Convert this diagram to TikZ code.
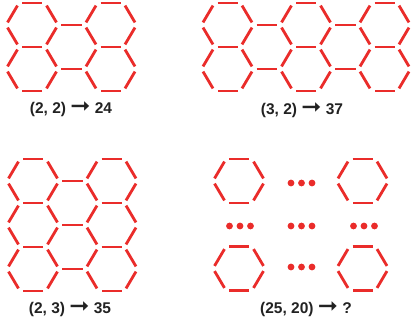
\documentclass[tikz,border=0pt]{standalone}
\usepackage{fontspec}
\setmainfont{Liberation Sans}
\newfontfamily\arrowfont{DejaVu Sans}
\usepackage{graphicx}
\usepackage{tikz}
\usetikzlibrary{calc}

\definecolor{hexred}{RGB}{234,44,42}
\definecolor{labelgray}{RGB}{34,34,34}

\tikzset{
  edge/.style={hexred, line width=2.8pt, shorten >=3pt, shorten <=3pt},
  countlabel/.style={text=labelgray, font=\bfseries\fontsize{15.5}{16}\selectfont, inner sep=0pt}
}

% heavy arrow between pair and count
\newcommand{\toarrow}{\raisebox{-0.9pt}{\scalebox{1.55}[1.45]{\arrowfont\bfseries ➞}}}

% one hexagon, flat top, centre at (#1,#2)
\newcommand{\hexcell}[2]{%
  \begin{scope}[shift={(#1,#2)}]
    \foreach \a in {0,60,...,300}
      \draw[edge] (\a:26 and 25.4) -- (\a+60:26 and 25.4);
  \end{scope}}

% #3 columns by #4 rows, first centre at (#1,#2)
\newcommand{\hexgrid}[4]{%
  \foreach \i in {1,...,#3}
    \foreach \j in {1,...,#4}
      \hexcell{{#1+(\i-1)*78.5}}{{#2+(\j-1)*44}};
  \ifnum#3>1
    \foreach \i in {2,...,#3}
      \foreach \j in {1,...,#4}
        \draw[edge] ({#1+(\i-2)*78.5+26},{#2+(\j-1)*44}) -- ({#1+(\i-1)*78.5-26},{#2+(\j-1)*44});
  \fi}

% three dots
\newcommand{\dotrow}[2]{%
  \foreach \d in {-10.5,0,10.5}
    \fill[hexred] ({#1+\d},#2) circle (3.4);}

\begin{document}
\begin{tikzpicture}[x=1pt, y=-1pt]
  \useasboundingbox[fill=white] (0,0) rectangle (411,329);

  % (2,2)
  \hexgrid{32}{25}{2}{2}
  \node[countlabel] (lab22) at (71,109) {(2, 2) \toarrow{} 24};

  % (3,2)
  \hexgrid{227.5}{25}{3}{2}
  \node[countlabel] (lab32) at (302,110) {(3, 2) \toarrow{} 37};

  % (2,3)
  \hexgrid{33}{181}{2}{3}
  \node[countlabel] (lab23) at (70,309) {(2, 3) \toarrow{} 35};

  % (25,20)
  \hexcell{239}{181}
  \hexcell{362.5}{181}
  \hexcell{239}{268.5}
  \hexcell{362.5}{268.5}
  \dotrow{301.5}{183}
  \dotrow{240}{226}
  \dotrow{301.5}{226}
  \dotrow{364}{226}
  \dotrow{301.5}{267}
  \node[countlabel] (lab2520) at (306,309) {(25, 20) \toarrow{} ?};
\end{tikzpicture}
\end{document}
